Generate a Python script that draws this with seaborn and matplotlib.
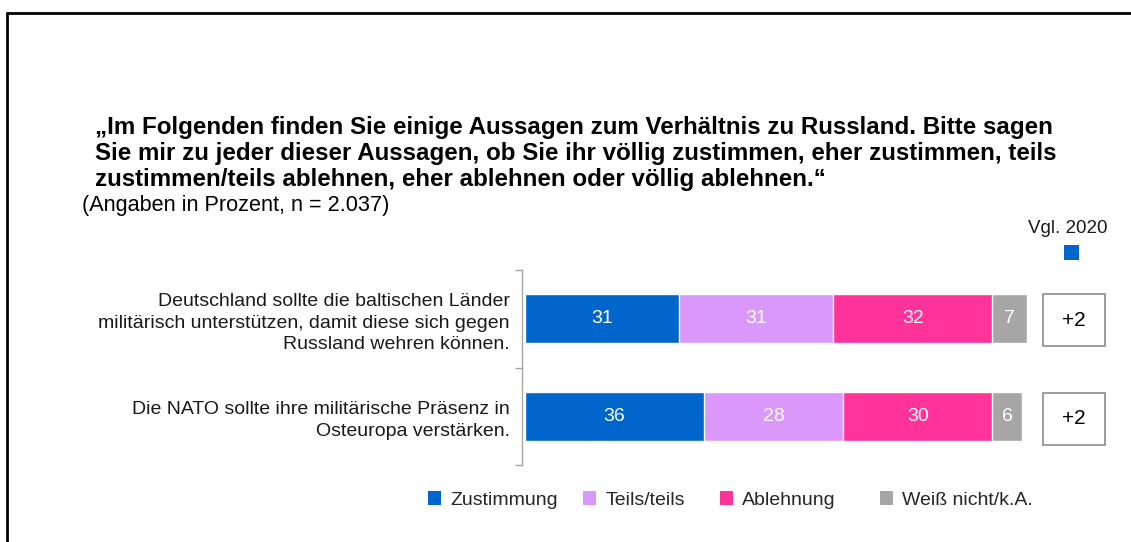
import matplotlib
matplotlib.use("Agg")
import matplotlib.pyplot as plt
from matplotlib.lines import Line2D
from matplotlib.patches import Rectangle, Patch
import seaborn as sns
import pandas as pd
import numpy as np

# ---- data ----
statements = [
    "Deutschland sollte die baltischen Länder\nmilitärisch unterstützen, damit diese sich gegen\nRussland wehren können.",
    "Die NATO sollte ihre militärische Präsenz in\nOsteuropa verstärken.",
]
series_names = ["Zustimmung", "Teils/teils", "Ablehnung", "Weiß nicht/k.A."]
zustimmung = [31, 36]
teils = [31, 28]
ablehnung = [32, 30]
weiss_nicht = [7, 6]
vgl_2020 = ["+2", "+2"]
colors = ["#0066CC", "#DA98FA", "#FF3399", "#A6A6A6"]

title = ("„Im Folgenden finden Sie einige Aussagen zum Verhältnis zu Russland. Bitte sagen\n"
         "Sie mir zu jeder dieser Aussagen, ob Sie ihr völlig zustimmen, eher zustimmen, teils\n"
         "zustimmen/teils ablehnen, eher ablehnen oder völlig ablehnen.“")
subtitle = "(Angaben in Prozent, n = 2.037)"

sns.set_theme(style="white")
plt.rcParams["font.family"] = ["Liberation Sans", "DejaVu Sans"]

W, H = 1131, 542
fig = plt.figure(figsize=(W / 100, H / 100), dpi=100)
fig.patch.set_facecolor("white")

def fx(px):
    return px / W

def fy(py):
    return 1 - py / H

# axes: spine at x=522, data 0 at x=525, 101 at 1027; y boundaries 270..465
ax = fig.add_axes([fx(522), fy(465), fx(1027 - 522), (465 - 270) / H])

df = pd.DataFrame({
    "stmt": list(range(len(statements))),
    "Zustimmung": zustimmung,
    "Teils/teils": teils,
    "Ablehnung": ablehnung,
    "Weiß nicht/k.A.": weiss_nicht,
})
vals = df[series_names].to_numpy(dtype=float)
cum = np.cumsum(vals, axis=1)

# draw cumulative bars from the longest down so that segments stack
for j in range(len(series_names) - 1, -1, -1):
    sub = pd.DataFrame({"y": [str(i) for i in df["stmt"]], "x": cum[:, j]})
    sns.barplot(data=sub, x="x", y="y", orient="h", color=colors[j],
                saturation=1, width=0.5, edgecolor="white", linewidth=1.0, ax=ax)

for i in range(len(statements)):
    for j in range(len(series_names)):
        center = cum[i, j] - vals[i, j] / 2
        ax.text(center, i, f"{int(vals[i, j])}", ha="center", va="center",
                color="white", fontsize=14)

ax.set_xlim(-0.6, 101)
ax.set_ylim(1.5, -0.5)
ax.set_xlabel("")
ax.set_ylabel("")
ax.set_xticks([])
ax.set_yticks([-0.5, 0.5, 1.5])
ax.set_yticklabels([])
ax.set_yticks([0, 1], minor=True)
ax.set_yticklabels(statements, minor=True, fontsize=14, ha="right",
                   multialignment="right", color="#1a1a1a", linespacing=1.36)
ax.tick_params(axis="y", which="major", length=5, width=1, color="#A6A6A6", left=True)
ax.tick_params(axis="y", which="minor", length=0, pad=9)
for s in ["top", "right", "bottom"]:
    ax.spines[s].set_visible(False)
ax.spines["left"].set_color("#A6A6A6")
ax.spines["left"].set_linewidth(1)
ax.set_facecolor("none")

# Vgl. 2020 boxes
box_tops = [294, 393]
for i, txt in enumerate(vgl_2020):
    y0 = box_tops[i]
    fig.patches.append(Rectangle((fx(1043), fy(y0 + 52)), fx(62), 52 / H,
                                 transform=fig.transFigure, facecolor="white",
                                 edgecolor="#8C8C8C", linewidth=1.2))
    fig.text(fx(1074), fy(y0 + 26), txt, ha="center", va="center",
             fontsize=15, color="black")
fig.text(fx(1068), fy(228), "Vgl. 2020", ha="center", va="center",
         fontsize=13.5, color="#1a1a1a")
fig.patches.append(Rectangle((fx(1064), fy(260)), fx(15), 15 / H,
                             transform=fig.transFigure, facecolor=colors[0],
                             edgecolor="none"))

# Title and subtitle
fig.text(fx(95), fy(116), title, ha="left", va="top", fontsize=17.4,
         fontweight="bold", color="black", linespacing=1.16)
fig.text(fx(82), fy(206), subtitle, ha="left", va="center", fontsize=15.6,
         color="black")

# Legend: one entry per legend, placed like the reference
legend_x = [422, 577, 714, 874]
for name, c, x in zip(series_names, colors, legend_x):
    lg = fig.legend([Patch(facecolor=c, edgecolor="none")], [name], loc="center left",
                    bbox_to_anchor=(fx(x), fy(500)), frameon=False, fontsize=14,
                    handlelength=0.7, handleheight=0.7, handletextpad=0.45,
                    borderaxespad=0, borderpad=0.3)

# frame border (top and left)
fig.add_artist(Line2D([fx(7), 1], [fy(13), fy(13)], color="black", linewidth=2,
                      transform=fig.transFigure))
fig.add_artist(Line2D([fx(7), fx(7)], [fy(13), 0], color="black", linewidth=2,
                      transform=fig.transFigure))

fig.savefig("out.png", dpi=100, facecolor="white")
